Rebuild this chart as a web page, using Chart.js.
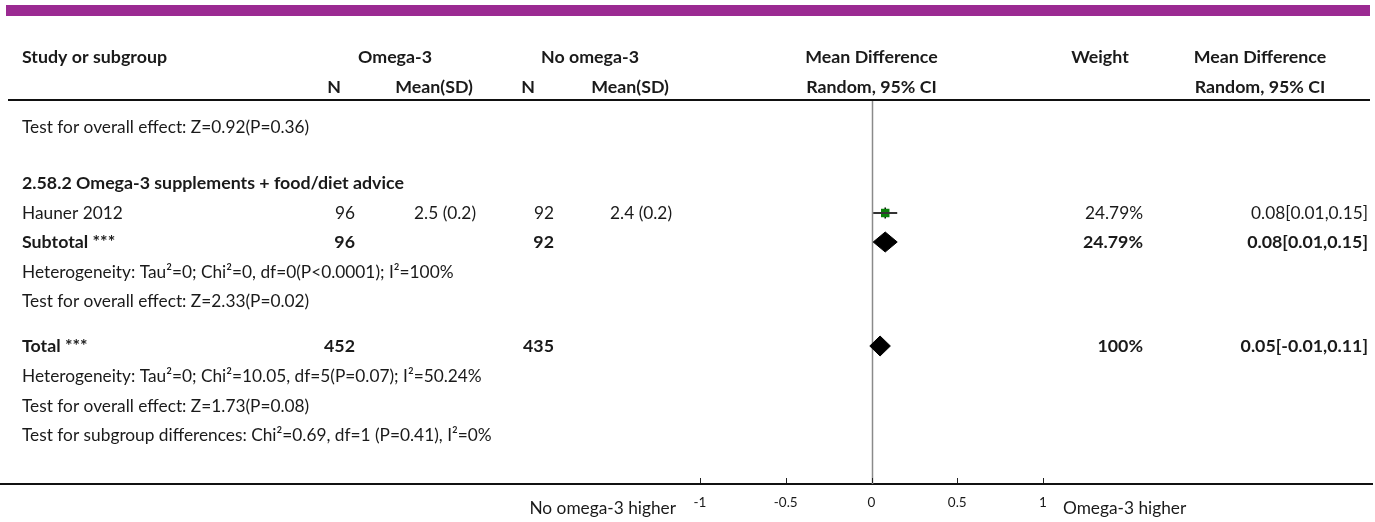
<!DOCTYPE html>
<html><head><meta charset="utf-8">
<script src="https://cdn.jsdelivr.net/npm/chart.js@4/dist/chart.umd.min.js"></script>
<style>html,body{margin:0;padding:0;background:#fff}canvas{display:block}</style>
</head><body>
<canvas id="c" width="1375" height="522"></canvas>
<script>
// ---------------- DATA ----------------
const rowLabels = [
  "Test for overall effect: Z=0.92(P=0.36)",
  "2.58.2 Omega-3 supplements + food/diet advice",
  "Hauner 2012",
  "Subtotal ***",
  "Heterogeneity: Tau\u00B2=0; Chi\u00B2=0, df=0(P<0.0001); I\u00B2=100%",
  "Test for overall effect: Z=2.33(P=0.02)",
  "Total ***",
  "Heterogeneity: Tau\u00B2=0; Chi\u00B2=10.05, df=5(P=0.07); I\u00B2=50.24%",
  "Test for overall effect: Z=1.73(P=0.08)",
  "Test for subgroup differences: Chi\u00B2=0.69, df=1 (P=0.41), I\u00B2=0%"
];
const rowKinds = ["note","group","study","subtotal","note","note","total","note","note","note"];
const omegaN        = [null,null,96,96,null,null,452,null,null,null];
const omegaMeanSD   = [null,null,"2.5 (0.2)",null,null,null,null,null,null,null];
const noOmegaN      = [null,null,92,92,null,null,435,null,null,null];
const noOmegaMeanSD = [null,null,"2.4 (0.2)",null,null,null,null,null,null,null];
const weights       = [null,null,"24.79%","24.79%",null,null,"100%",null,null,null];
const meanDiff      = [null,null,0.08,0.08,null,null,0.05,null,null,null];
const ciLow         = [null,null,0.01,0.01,null,null,-0.01,null,null,null];
const ciHigh        = [null,null,0.15,0.15,null,null,0.11,null,null,null];
const xTicks = [-1,-0.5,0,0.5,1];
const leftFavours = "No omega-3 higher";
const rightFavours = "Omega-3 higher";
const headerTop = ["Study or subgroup","Omega-3","No omega-3","Mean Difference","Weight","Mean Difference"];
const headerSub = ["N","Mean(SD)","N","Mean(SD)","Random, 95% CI","Random, 95% CI"];

// ---------------- LAYOUT / STYLE ----------------
const FONT = "Lato, 'Noto Sans', sans-serif";
const FS = 17.3;
const FSB = 17.8;
const TXT = "#1a1a1a";
const rowY = [127,183,213,242,272,301,346,376,406,435]; // row centres (px)
const DIAMOND_HALF = 10;
const fmtMD = (m,l,h) => m.toFixed(2)+"["+l.toFixed(2)+","+h.toFixed(2)+"]";

// ---------------- DATASETS ----------------
const datasets = [];
rowKinds.forEach((k,i) => {
  if (k === "study") {
    datasets.push({type:"line", data:[{x:ciLow[i],y:rowY[i]},{x:ciHigh[i],y:rowY[i]}],
      borderColor:"#333", borderWidth:2, pointRadius:0, fill:false, clip:false});
    datasets.push({type:"scatter", data:[{x:meanDiff[i],y:rowY[i]}],
      pointStyle:"rect", pointRadius:6, backgroundColor:"#0a800a", borderColor:"#0a800a", borderWidth:0, clip:false});
    datasets.push({type:"scatter", data:[{x:meanDiff[i],y:rowY[i]}],
      pointStyle:"line", rotation:90, pointRadius:5.5, borderColor:"#000", borderWidth:1.5, clip:false});
  } else if (k === "subtotal" || k === "total") {
    const y = rowY[i];
    datasets.push({type:"line", data:[
        {x:ciLow[i],y:y},{x:meanDiff[i],y:y-DIAMOND_HALF},{x:ciHigh[i],y:y},{x:meanDiff[i],y:y+DIAMOND_HALF},{x:ciLow[i],y:y}],
      borderColor:"#000", borderWidth:1, backgroundColor:"#000", pointRadius:0, fill:"shape", tension:0, clip:false});
  }
});

// ---------------- TEXT PLUGIN ----------------
function txt(ctx, s, x, y, align, bold, size) {
  ctx.font = (bold ? "bold " : "") + (size || (bold ? FSB : FS)) + "px " + FONT;
  ctx.textAlign = align; ctx.textBaseline = "middle"; ctx.fillStyle = TXT;
  ctx.fillText(s, x, y);
}
const forestPlugin = {
  id: "forest",
  beforeDatasetsDraw(chart) {
    const ctx = chart.ctx, xs = chart.scales.x, a = chart.chartArea;
    ctx.save();
    ctx.fillStyle = "#9b2a92";
    ctx.fillRect(6, 5, 1364, 11);
    ctx.fillStyle = "#111";
    ctx.fillRect(8, 99, 1362, 2);
    ctx.fillRect(0, a.bottom - 1, 1373, 2);
    const x0 = Math.round(xs.getPixelForValue(0)) + 0.5;
    ctx.strokeStyle = "#8a8a8a"; ctx.lineWidth = 1.5;
    ctx.beginPath(); ctx.moveTo(x0, a.top); ctx.lineTo(x0, a.bottom); ctx.stroke();
    ctx.strokeStyle = "#222"; ctx.lineWidth = 1;
    xs.ticks.forEach((t, j) => {
      const px = Math.round(xs.getPixelForTick(j)) + 0.5;
      ctx.beginPath(); ctx.moveTo(px, a.bottom - 1); ctx.lineTo(px, a.bottom - 6); ctx.stroke();
    });
    ctx.restore();
  },
  afterDraw(chart) {
    const ctx = chart.ctx, xs = chart.scales.x;
    ctx.save();
    const mdCx = xs.getPixelForValue(0);
    txt(ctx, headerTop[0], 22, 57, "left", true);
    txt(ctx, headerTop[1], 395, 57, "center", true);
    txt(ctx, headerTop[2], 590, 57, "center", true);
    txt(ctx, headerTop[3], mdCx, 57, "center", true);
    txt(ctx, headerTop[4], 1100, 57, "center", true);
    txt(ctx, headerTop[5], 1260, 57, "center", true);
    txt(ctx, headerSub[0], 334, 87, "center", true);
    txt(ctx, headerSub[1], 473, 87, "right", true);
    txt(ctx, headerSub[2], 528, 87, "center", true);
    txt(ctx, headerSub[3], 669, 87, "right", true);
    txt(ctx, headerSub[4], mdCx, 87, "center", true);
    txt(ctx, headerSub[5], 1260, 87, "center", true);
    rowKinds.forEach((k, i) => {
      const y = rowY[i];
      const b = (k === "group" || k === "subtotal" || k === "total");
      txt(ctx, rowLabels[i], 22, y, "left", b);
      if (omegaN[i] != null) txt(ctx, String(omegaN[i]), 355, y, "right", b);
      if (omegaMeanSD[i] != null) txt(ctx, omegaMeanSD[i], 476, y, "right", b);
      if (noOmegaN[i] != null) txt(ctx, String(noOmegaN[i]), 554, y, "right", b);
      if (noOmegaMeanSD[i] != null) txt(ctx, noOmegaMeanSD[i], 672, y, "right", b);
      if (weights[i] != null) txt(ctx, weights[i], 1143, y, "right", b);
      if (meanDiff[i] != null) txt(ctx, fmtMD(meanDiff[i], ciLow[i], ciHigh[i]), 1368, y, "right", b);
    });
    txt(ctx, leftFavours, 676, 508, "right", false);
    txt(ctx, rightFavours, 1063, 508, "left", false);
    ctx.restore();
  }
};

// ---------------- CHART ----------------
new Chart(document.getElementById("c"), {
  type: "scatter",
  data: { datasets },
  options: {
    responsive: false, animation: false, events: [],
    layout: { padding: { left: 700, right: 332, top: 101, bottom: 0 } },
    plugins: { legend: { display: false }, tooltip: { enabled: false } },
    scales: {
      x: {
        type: "linear", min: -1, max: 1, position: "bottom",
        afterBuildTicks: s => { s.ticks = xTicks.map(v => ({ value: v })); },
        afterFit: s => { s.height = 38; },
        grid: { display: false, drawTicks: false },
        border: { display: false },
        ticks: { font: { family: FONT, size: 13.5 }, color: TXT, padding: 11, maxRotation: 0,
                 callback: v => String(v) }
      },
      y: { type: "linear", min: 101, max: 484, reverse: true, display: false }
    }
  },
  plugins: [forestPlugin]
});
</script>
</body></html>
